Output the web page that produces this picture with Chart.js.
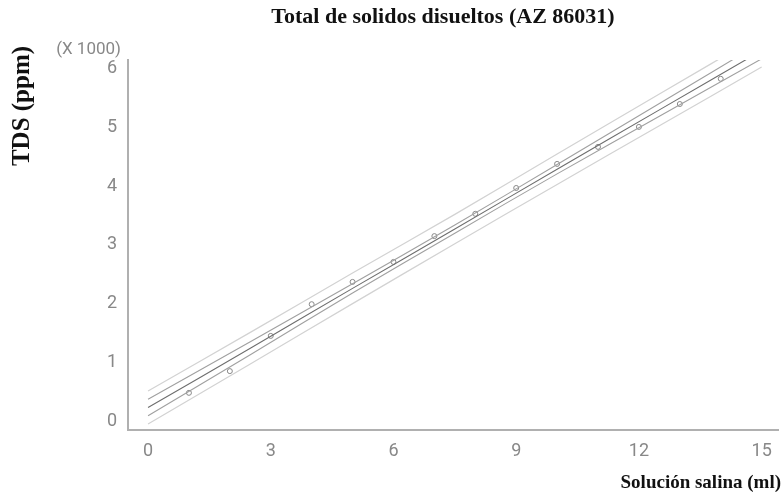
<!DOCTYPE html>
<html>
<head>
<meta charset="utf-8">
<script src="https://cdn.jsdelivr.net/npm/chart.js@4/dist/chart.umd.min.js"></script>
<style>
  html, body { margin: 0; padding: 0; background: #fff; }
  #wrap { width: 783px; height: 502px; position: relative; }
</style>
</head>
<body>
<div id="wrap"><canvas id="tds"></canvas></div>
<script>
/* ---------- Data ---------- */
const solucion = [1, 2, 3, 4, 5, 6, 7, 8, 9, 10, 11, 12, 13, 14];            // ml
const tds      = [0.48, 0.85, 1.45, 1.99, 2.37, 2.71, 3.15, 3.53, 3.97, 4.38, 4.67, 5.01, 5.40, 5.83]; // x1000 ppm

// fitted model + bands, sampled at these x positions
const bandX     = [0, 2.5, 5, 7.5, 10, 12.5, 15];
const ajuste    = [0.23, 1.24, 2.26, 3.27, 4.29, 5.30, 6.31];
const confSup   = [0.37, 1.35, 2.34, 3.34, 4.37, 5.41, 6.45];
const confInf   = [0.09, 1.13, 2.18, 3.20, 4.21, 5.19, 6.17];
const predSup   = [0.51, 1.51, 2.52, 3.52, 4.55, 5.57, 6.59];
const predInf   = [-0.05, 0.97, 2.00, 3.02, 4.03, 5.03, 6.03];

const xTicks = [0, 3, 6, 9, 12, 15];
const yTicks = [0, 1, 2, 3, 4, 5, 6];

const tickColor = '#888';
const tickFont = { family: 'Roboto', size: 18 };

function pairs(xs, ys) {
    return xs.map((x, i) => ({ x: x, y: ys[i] }));
}

function bandLine(ys, color, width) {
    return {
        type: 'line',
        data: pairs(bandX, ys),
        borderColor: color,
        borderWidth: width,
        pointRadius: 0,
        tension: 0.4,
        fill: false
    };
}

/* ---------- Text around the plot ---------- */
const labelsPlugin = {
    id: 'labels',
    afterDraw(chart) {
        const c = chart.ctx;
        c.save();
        c.fillStyle = '#111';
        c.textBaseline = 'alphabetic';

        c.font = 'bold 22px "Liberation Serif"';
        c.textAlign = 'center';
        c.fillText('Total de solidos disueltos (AZ 86031)', 443, 23);

        c.font = 'bold 19px "Liberation Serif"';
        c.textAlign = 'right';
        c.fillText('Solución salina (ml)', 781, 488);

        c.save();
        c.translate(29, 106);
        c.rotate(-Math.PI / 2);
        c.font = 'bold 25px "Liberation Serif"';
        c.textAlign = 'center';
        c.fillText('TDS (ppm)', 0, 0);
        c.restore();

        c.fillStyle = tickColor;
        c.font = '17px Roboto';
        c.textAlign = 'right';
        c.textBaseline = 'middle';
        c.fillText('(X 1000)', 121, 50);
        c.restore();
    }
};

new Chart(document.getElementById('tds'), {
    type: 'scatter',
    data: {
        datasets: [
            bandLine(predSup, '#d2d2d2', 1.2),
            bandLine(predInf, '#d2d2d2', 1.2),
            bandLine(confSup, '#a0a0a0', 1.1),
            bandLine(confInf, '#a0a0a0', 1.1),
            bandLine(ajuste, '#6e6e6e', 1.1),
            {
                data: pairs(solucion, tds),
                pointRadius: 2.5,
                pointBorderWidth: 1,
                pointBorderColor: '#888',
                pointBackgroundColor: '#fff'
            }
        ]
    },
    options: {
        responsive: true,
        maintainAspectRatio: false,
        animation: false,
        layout: { padding: { top: 60, right: 0, left: 0, bottom: 0 } },
        plugins: {
            legend: { display: false },
            tooltip: { enabled: false }
        },
        scales: {
            x: {
                type: 'linear',
                min: -0.49,
                max: 15.4,
                grid: { display: false },
                border: { color: '#b0b0b0', width: 2 },
                afterBuildTicks: s => { s.ticks = xTicks.map(v => ({ value: v })); },
                afterFit: s => { s.height = 72; },
                ticks: { color: tickColor, font: tickFont, padding: 3, maxRotation: 0 }
            },
            y: {
                type: 'linear',
                min: -0.153,
                max: 6.15,
                grid: { display: false },
                border: { color: '#b0b0b0', width: 2 },
                afterBuildTicks: s => { s.ticks = yTicks.map(v => ({ value: v })); },
                afterFit: s => { s.width = 128; },
                ticks: { color: tickColor, font: tickFont, padding: 3 }
            }
        }
    },
    plugins: [labelsPlugin]
});
</script>
</body>
</html>
